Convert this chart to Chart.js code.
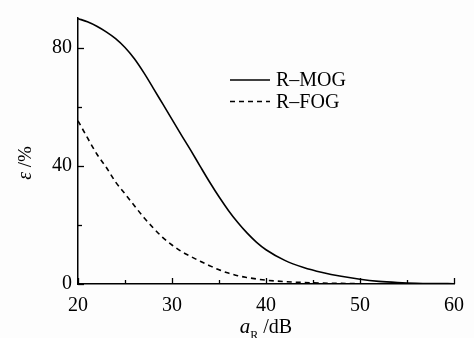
<!DOCTYPE html>
<html>
<head>
<meta charset="utf-8">
<script src="https://cdn.jsdelivr.net/npm/chart.js@4/dist/chart.umd.min.js"></script>
<style>
  body { margin: 0; background: #fdfdfd; }
  #wrap { width: 474px; height: 338px; }
</style>
</head>
<body>
<div id="wrap"><canvas id="canvas-1" width="474" height="338"></canvas></div>
<script>
// a_R in dB
const xMog = [20, 21, 22, 23, 24, 25, 26, 27, 28, 29, 30, 31, 32, 33, 34, 35, 36, 37, 38, 39, 40, 42, 44, 46, 48, 50, 52, 54, 56, 58, 60]
const yMog = [89.8, 88.7, 87.2, 85.3, 83.0, 80.0, 76.2, 71.5, 66.3, 61.0, 55.7, 50.4, 45.2, 39.8, 34.5, 29.5, 24.9, 20.8, 17.2, 14.1, 11.6, 8.0, 5.6, 3.9, 2.6, 1.6, 0.9, 0.5, 0.25, 0.15, 0.1]
const xFog = [20, 21, 22, 23, 24, 25, 26, 27, 28, 29, 30, 31, 32, 33, 34, 35, 36, 37, 38, 39, 40, 42, 44, 46, 48, 50, 55, 60]
const yFog = [55.2, 49.5, 44, 39.5, 34.5, 30.5, 26.5, 22.5, 19, 15.8, 13.2, 11, 9.3, 7.7, 6.2, 4.8, 3.7, 2.8, 2.2, 1.7, 1.3, 0.8, 0.5, 0.3, 0.2, 0.1, 0.05, 0.02]
const xLabels = [20, 30, 40, 50, 60]
const yLabels = [0, 40, 80]
const seriesNames = ['R\u2013MOG', 'R\u2013FOG']

const serif = '"Liberation Serif", "DejaVu Serif", serif'

function pts(xs, ys) {
  return xs.map((v, i) => ({ x: v, y: ys[i] }))
}

// ticks pointing inward, legend and axis titles
const decor = {
  id: 'decor',
  afterDraw(chart) {
    const { ctx, chartArea: a } = chart
    const x = chart.scales.x, y = chart.scales.y
    ctx.save()
    ctx.strokeStyle = '#000'
    ctx.fillStyle = '#000'
    ctx.lineWidth = 1.3
    x.ticks.forEach(t => {
      const px = Math.round(x.getPixelForValue(t.value)) + 0.5
      const len = xLabels.includes(t.value) ? 6 : 4
      ctx.beginPath(); ctx.moveTo(px, a.bottom); ctx.lineTo(px, a.bottom - len); ctx.stroke()
    })
    y.ticks.forEach(t => {
      const py = Math.round(y.getPixelForValue(t.value)) + 0.5
      const len = yLabels.includes(t.value) ? 6 : 4
      ctx.beginPath(); ctx.moveTo(a.left, py); ctx.lineTo(a.left + len, py); ctx.stroke()
    })

    // legend
    chart.data.datasets.forEach((ds, i) => {
      const ly = 80 + i * 21.5
      ctx.lineWidth = ds.borderWidth
      ctx.setLineDash(ds.borderDash || [])
      ctx.beginPath(); ctx.moveTo(230, ly); ctx.lineTo(270, ly); ctx.stroke()
      ctx.setLineDash([])
      ctx.font = '20px ' + serif
      ctx.textBaseline = 'middle'
      ctx.textAlign = 'left'
      ctx.fillText(ds.label, 276, ly + 1)
    })

    // x title: a_R /dB
    ctx.textBaseline = 'alphabetic'
    ctx.textAlign = 'left'
    const f1 = 'italic 21px ' + serif, f2 = '12px ' + serif, f3 = '20px ' + serif
    ctx.font = f1; const w1 = ctx.measureText('a').width
    ctx.font = f2; const w2 = ctx.measureText('R').width
    ctx.font = f3; const w3 = ctx.measureText(' /dB').width
    let sx = 266 - (w1 + w2 + w3) / 2
    ctx.font = f1; ctx.fillText('a', sx, 333)
    ctx.font = f2; ctx.fillText('R', sx + w1, 339)
    ctx.font = f3; ctx.fillText(' /dB', sx + w1 + w2, 333)

    // y title: ε /%
    ctx.translate(26, 163)
    ctx.rotate(-Math.PI / 2)
    ctx.textBaseline = 'middle'
    ctx.font = 'italic 20px ' + serif; const e1 = ctx.measureText('\u03b5').width
    ctx.font = '19px ' + serif; const e2 = ctx.measureText(' /%').width
    ctx.font = 'italic 20px ' + serif; ctx.fillText('\u03b5', -(e1 + e2) / 2, 0)
    ctx.font = '19px ' + serif; ctx.fillText(' /%', -(e1 + e2) / 2 + e1, 0)
    ctx.restore()
  }
}

const lineChart = new Chart(document.getElementById('canvas-1'), {
  type: 'line',
  data: {
    datasets: [{
      label: seriesNames[0],
      data: pts(xMog, yMog),
      borderColor: '#000',
      borderWidth: 1.6,
      pointRadius: 0,
      cubicInterpolationMode: 'monotone'
    }, {
      label: seriesNames[1],
      data: pts(xFog, yFog),
      borderColor: '#000',
      borderWidth: 1.6,
      borderDash: [5, 4],
      pointRadius: 0,
      cubicInterpolationMode: 'monotone'
    }]
  },
  options: {
    responsive: false,
    animation: false,
    layout: {
      padding: { top: 8, right: 20, left: 0, bottom: 0 }
    },
    plugins: {
      legend: { display: false },
      tooltip: { enabled: false }
    },
    scales: {
      x: {
        type: 'linear',
        min: 20,
        max: 60,
        grid: { display: false, drawTicks: false },
        border: { color: '#000', width: 1.5 },
        afterFit: s => { s.height = 54 },
        ticks: {
          stepSize: 5,
          includeBounds: false,
          autoSkip: false,
          maxRotation: 0,
          padding: 10,
          color: '#000',
          font: { family: serif, size: 20 },
          callback: v => xLabels.includes(v) ? String(v) : ''
        }
      },
      y: {
        min: 0,
        max: 90,
        grid: { display: false, drawTicks: false },
        border: { color: '#000', width: 1.5 },
        afterFit: s => { s.width = 78 },
        ticks: {
          stepSize: 20,
          includeBounds: false,
          autoSkip: false,
          padding: 6,
          color: '#000',
          font: { family: serif, size: 20 },
          callback: v => yLabels.includes(v) ? String(v) : ''
        }
      }
    }
  },
  plugins: [decor]
});
</script>
</body>
</html>
